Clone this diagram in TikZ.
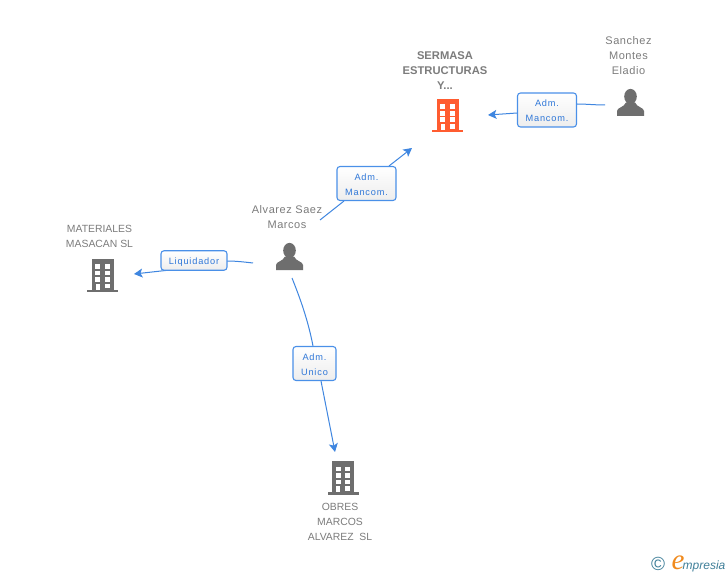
\documentclass[tikz,border=0pt]{standalone}
\usepackage{fontspec}
\setmainfont{Liberation Sans}
\newfontfamily\lblfont[LetterSpace=9]{Liberation Sans}
\newfontfamily\namefont[LetterSpace=5]{Liberation Sans}
\newfontfamily\logofont{Liberation Serif}
\newcommand{\lblstrut}{\rule{0pt}{9pt}}
\usetikzlibrary{arrows.meta}
\definecolor{edgeblue}{HTML}{3F86E0}
\definecolor{boxblue}{HTML}{4A90E8}
\definecolor{lbltext}{HTML}{2F77D8}
\definecolor{icongray}{HTML}{6E6E6E}
\definecolor{txtgray}{HTML}{7C7C7C}
\definecolor{hotorange}{HTML}{FF5C30}
\definecolor{logoteal}{HTML}{3F7F99}
\definecolor{logoorange}{HTML}{F08A1D}
\tikzset{
  x=1pt,y=-1pt,
  buildingicon/.pic={
    \fill[pic actions] (-11,0) rectangle (11,31);
    \fill[pic actions] (-15.5,31) rectangle (15.5,33.5);
    \foreach \r in {5.5,12,18.5}{
      \fill[white] (-7.4,\r) rectangle (-2.1,\r+4.9);
      \fill[white] (2.1,\r) rectangle (7.4,\r+4.9);
    }
    \fill[white] (2.1,25) rectangle (7.4,29.9);
    \fill[white] (-6.8,25) rectangle (-2.6,31);
  },
  personicon/.pic={
    \fill[icongray] (0,-6) ellipse [x radius=6.3,y radius=7.6];
    \fill[icongray] (-13.5,13.5) -- (-13.5,8.5)
      .. controls (-13.5,5) and (-6.5,5) .. (-4.5,0)
      -- (4.5,0)
      .. controls (6.5,5) and (13.5,5) .. (13.5,8.5)
      -- (13.5,13.5) -- cycle;
  },
  nametext/.style={text=txtgray,align=center,inner sep=0pt,
    font=\namefont\fontsize{11}{15}\selectfont},
  capstext/.style={text=txtgray,align=center,inner sep=0pt,
    font=\fontsize{10.4}{15}\selectfont},
  boldtext/.style={text=txtgray,align=center,inner sep=0pt,
    font=\bfseries\fontsize{11.2}{15}\selectfont},
  lblbox/.style={draw=boxblue,line width=1.1pt,rounded corners=3pt,
    top color=white,bottom color=white!93!black,
    text=lbltext,align=center,inner sep=0pt,
    font=\lblfont\fontsize{9.2}{15}\selectfont},
  edgeline/.style={draw=edgeblue,line width=1pt},
  edgearrow/.style={edgeline,-{Stealth[length=8.5pt,width=9pt,inset=2pt]}},
}
\begin{document}
\begin{tikzpicture}
\useasboundingbox (0,0) rectangle (728,575);
\fill[white] (0,0) rectangle (728,575);

% entities
\pic[icongray] at (102.5,258.5) {buildingicon};
\pic[icongray] at (343,461) {buildingicon};
\pic[hotorange] at (447.5,99) {buildingicon};
\pic at (630.5,102.5) {personicon};
\pic at (289.5,256.5) {personicon};

\node[boldtext] (sermasa) at (445,70.3) {SERMASA\\ESTRUCTURAS\\Y...};
\node[nametext] (sanchez) at (628.5,55.3) {Sanchez\\Montes\\Eladio};
\node[nametext] (alvarez) at (287,216.8) {Alvarez Saez\\Marcos};
\node[capstext] (materiales) at (99.5,236.8) {MATERIALES\\MASACAN SL};
\node[capstext] (obres) at (340,522.3) {OBRES\\MARCOS\\ALVAREZ\ \ SL};

% free ends of the connectors
\coordinate (sanchezout) at (605,105);
\coordinate (sermasain) at (488,115);
\coordinate (alvarezne) at (320,220);
\coordinate (sermasasw) at (412,148);
\coordinate (alvarezw) at (253,263);
\coordinate (materialesin) at (134,274);
\coordinate (alvarezs) at (292,278);
\coordinate (obresin) at (335,452);

% connectors
\coordinate (a1) at (577,104);
\coordinate (a2) at (517,113);
\coordinate (b1) at (344,201);
\coordinate (b2) at (389,166);
\coordinate (c1) at (227,261);
\coordinate (c2) at (170,270);
\coordinate (d1) at (313,346);
\coordinate (d2) at (321,381);
\draw[edgeline] (sanchezout) .. controls (595,105) and (586,104) .. (a1);
\draw[edgearrow] (a2) -- (sermasain);
\draw[edgeline] (alvarezne) -- (b1);
\draw[edgearrow] (b2) -- (sermasasw);
\draw[edgeline] (alvarezw) .. controls (244,262) and (236,261) .. (c1);
\draw[edgearrow] (c2) -- (materialesin);
\draw[edgeline] (alvarezs) .. controls (300,298) and (308,320) .. (d1);
\draw[edgearrow] (d2) -- (obresin);

% role labels
\node[lblbox,minimum width=59pt,minimum height=34pt] (lab1) at (547,110) {\lblstrut Adm.\\Mancom.};
\node[lblbox,minimum width=59pt,minimum height=34pt] (lab2) at (366.5,183.5) {\lblstrut Adm.\\Mancom.};
\node[lblbox,minimum width=66pt,minimum height=19.5pt] (lab3) at (194,260.5) {\lblstrut Liquidador};
\node[lblbox,minimum width=43pt,minimum height=34pt] (lab4) at (314.5,363.5) {\lblstrut Adm.\\Unico};

% logo
\node[inner sep=0pt,text=logoteal,font=\fontsize{19}{19}\selectfont] (copyr) at (658,564) {©};
\node[inner sep=0pt,anchor=base,text=logoorange,font=\logofont\itshape\fontsize{29}{29}\selectfont] (logoe) at (678,569) {e};
\node[inner sep=0pt,anchor=base west,text=logoteal,font=\itshape\fontsize{12}{12}\selectfont] (logotext) at (682.5,569) {mpresia};
\end{tikzpicture}
\end{document}
